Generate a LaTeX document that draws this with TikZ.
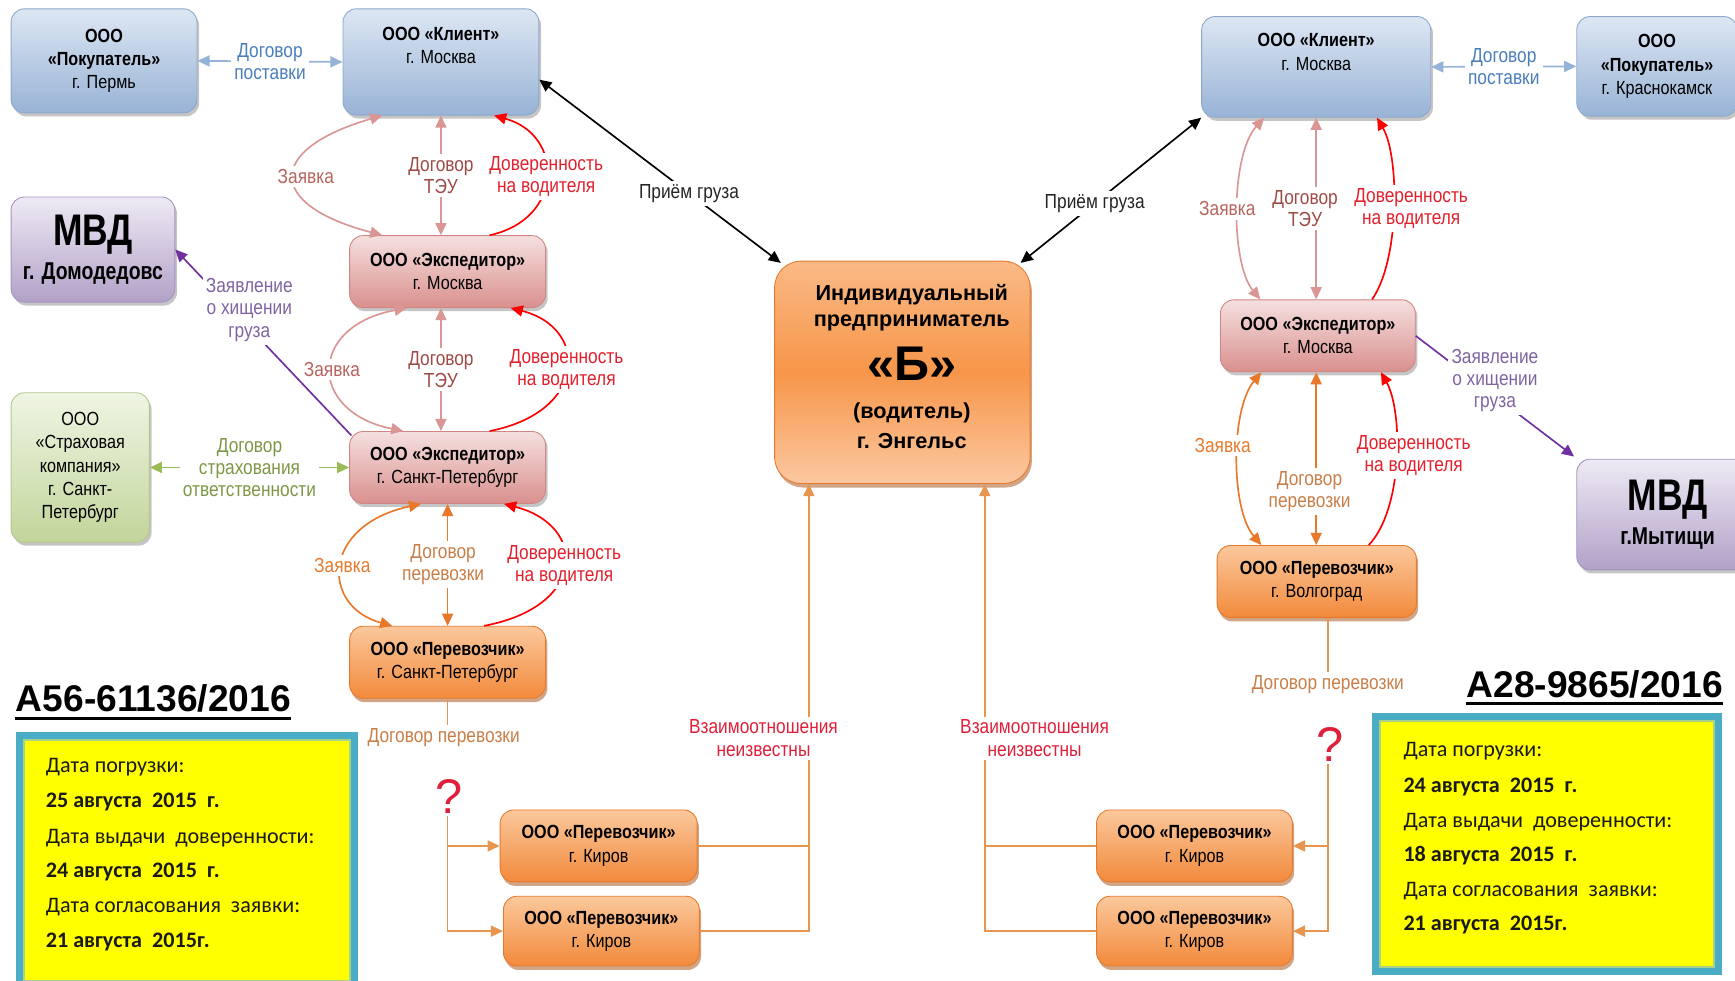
\documentclass[tikz,border=0pt]{standalone}
\usepackage{fontspec}
\setmainfont{Liberation Sans}
\newfontfamily\nar[FakeStretch=0.85]{Liberation Sans}
\newfontfamily\narx[FakeStretch=0.8]{Liberation Sans}
\newfontfamily\calib{Carlito}
\usetikzlibrary{arrows.meta,shadows,calc}

\definecolor{bluetop}{HTML}{DDE7F3}
\definecolor{bluebot}{HTML}{98B3D6}
\definecolor{blueedge}{HTML}{8DA8CC}
\definecolor{pinktop}{HTML}{F5E0DF}
\definecolor{pinkbot}{HTML}{D9908E}
\definecolor{pinkedge}{HTML}{D08684}
\definecolor{ortop}{HTML}{FBC89C}
\definecolor{orbot}{HTML}{F28A3C}
\definecolor{oredge}{HTML}{E57A2E}
\definecolor{bTop}{HTML}{FAB985}
\definecolor{bMid}{HTML}{F7964A}
\definecolor{bBot}{HTML}{FBC8A0}
\definecolor{purtop}{HTML}{EEEAF4}
\definecolor{purbot}{HTML}{B2A1C8}
\definecolor{puredge}{HTML}{A593BF}
\definecolor{grtop}{HTML}{EFF5E4}
\definecolor{grbot}{HTML}{C2D59A}
\definecolor{gredge}{HTML}{B2C88C}
\definecolor{cSupply}{HTML}{95B3D7}
\definecolor{tSupply}{HTML}{4A7EBB}
\definecolor{cPink}{HTML}{D99694}
\definecolor{tZay}{HTML}{B9645E}
\definecolor{tTeu}{HTML}{9E4A46}
\definecolor{cRed}{HTML}{FF0000}
\definecolor{tRed}{HTML}{E3202C}
\definecolor{cOr}{HTML}{E8782A}
\definecolor{tOr}{HTML}{E87A2C}
\definecolor{tOrB}{HTML}{C97E48}
\definecolor{cPur}{HTML}{7030A0}
\definecolor{tPur}{HTML}{8064A2}
\definecolor{cGr}{HTML}{9BBB59}
\definecolor{tGr}{HTML}{7C9845}
\definecolor{cLine}{HTML}{E8954F}
\definecolor{tUnk}{HTML}{E0203A}
\definecolor{frameA}{HTML}{4BACC6}
\definecolor{frameB}{HTML}{A9D18E}
\definecolor{yel}{HTML}{FFFF00}

\begin{document}
\begin{tikzpicture}[x=0.5pt,y=-0.5pt,
  >={Triangle[length=5.5pt,width=5pt]},
  box/.style={rounded corners=6pt, align=center, inner sep=1pt, line width=0.4pt, text=black,
    font=\nar\fontsize{8.6}{10.5}\selectfont},
  shd/.style={drop shadow={shadow xshift=1pt,shadow yshift=-1.6pt,opacity=0.3,fill=black!75}},
  bluebox/.style={box,shd,draw=blueedge,top color=bluetop,bottom color=bluebot},
  pinkbox/.style={box,shd,draw=pinkedge,top color=pinktop,bottom color=pinkbot},
  orbox/.style={box,draw=oredge,top color=ortop,bottom color=orbot,
    drop shadow={shadow xshift=0.8pt,shadow yshift=-1.8pt,opacity=0.55,fill=oredge!75!black}},
  purbox/.style={box,shd,draw=puredge,top color=purtop,bottom color=purbot},
  grbox/.style={box,shd,draw=gredge,top color=grtop,bottom color=grbot},
  boxtxt/.style={align=center,inner sep=0pt,text=black,font=\nar\fontsize{8.6}{10.5}\selectfont},
  btxt/.style={inner sep=0pt,text=black,font=\bfseries\fontsize{9.8}{12}\selectfont},
  lab/.style={align=center,fill=white,inner sep=1.5pt,font=\nar\fontsize{9.2}{10}\selectfont},
  conn/.style={line width=0.75pt},
  qm/.style={text=tUnk,inner sep=1pt,font=\fontsize{22}{24}\selectfont},
  ttl/.style={anchor=base west,inner sep=0pt,font=\bfseries\fontsize{16.8}{18}\selectfont},
  yframe/.style={draw=frameA,line width=3.2pt,fill=yel},
  ytxt/.style={anchor=base west,inner sep=0pt,text=black!90,font=\calib\fontsize{10}{12}\selectfont},
]
\useasboundingbox (0,0) rectangle (1568,886);

% ---------------- left column boxes
\node[bluebox,minimum width=84pt,minimum height=47pt] (pok1) at (94,55)
  {\textbf{ООО}\\\textbf{«Покупатель»}\\г. Пермь};
\node[bluebox,minimum width=88.5pt,minimum height=48pt] (kl1) at (398.5,56) {};
\node[boxtxt] (kl1t) at (398.5,41) {\textbf{ООО «Клиент»}\\г. Москва};
\node[purbox,minimum width=74pt,minimum height=47.5pt] (mvd1) at (84,225.5)
  {{\narx\bfseries\fontsize{20}{20}\selectfont МВД}\\[3pt]{\narx\bfseries\fontsize{11}{12}\selectfont г. Домодедовс}};
\node[pinkbox,minimum width=88.5pt,minimum height=32.5pt] (ex1) at (404.5,245.5)
  {\textbf{ООО «Экспедитор»}\\г. Москва};
\node[pinkbox,minimum width=88.5pt,minimum height=32.5pt] (ex2) at (404.5,422.5)
  {\textbf{ООО «Экспедитор»}\\г. Санкт-Петербург};
\node[grbox,minimum width=62.5pt,minimum height=67.5pt] (str) at (72.5,422.5)
  {ООО\\«Страховая\\компания»\\г. Санкт-\\Петербург};
\node[orbox,minimum width=88.5pt,minimum height=32.5pt] (per1) at (404.5,598.5)
  {\textbf{ООО «Перевозчик»}\\г. Санкт-Петербург};
\node[orbox,minimum width=89pt,minimum height=32.5pt] (kir1) at (541,764.5)
  {\textbf{ООО «Перевозчик»}\\г. Киров};
\node[orbox,minimum width=88.5pt,minimum height=31.5pt] (kir2) at (543.5,841.5)
  {\textbf{ООО «Перевозчик»}\\г. Киров};

% ---------------- centre
\node[orbox,rounded corners=12pt,minimum width=115.5pt,minimum height=100.5pt,
  top color=bTop,bottom color=bBot,middle color=bMid] (B) at (815.5,336.5) {};
\node[btxt] (bt1) at (824,266) {Индивидуальный};
\node[btxt] (bt2) at (824,292) {предприниматель};
\node[btxt,font=\bfseries\fontsize{22}{24}\selectfont] (bt3) at (824,329) {«Б»};
\node[btxt] (bt4) at (824,373) {(водитель)};
\node[btxt] (bt5) at (824,399) {г. Энгельс};

% ---------------- right column boxes
\node[bluebox,minimum width=103.5pt,minimum height=45.5pt] (kl2) at (1189.5,60.5) {};
\node[boxtxt] (kl2t) at (1189.5,47) {\textbf{ООО «Клиент»}\\г. Москва};
\node[bluebox,minimum width=72.5pt,minimum height=45pt] (pok2) at (1497.5,60)
  {\textbf{ООО}\\\textbf{«Покупатель»}\\г. Краснокамск};
\node[pinkbox,minimum width=88pt,minimum height=32.5pt] (ex3) at (1191,303.5)
  {\textbf{ООО «Экспедитор»}\\г. Москва};
\node[purbox,minimum width=82pt,minimum height=50pt] (mvd2) at (1507,465)
  {{\narx\bfseries\fontsize{20}{20}\selectfont МВД}\\[3pt]{\narx\bfseries\fontsize{11}{12}\selectfont г.Мытищи}};
\node[orbox,minimum width=90pt,minimum height=32.5pt] (per2) at (1190,525.5)
  {\textbf{ООО «Перевозчик»}\\г. Волгоград};
\node[orbox,minimum width=88.5pt,minimum height=32.5pt] (kir3) at (1079.5,764.5)
  {\textbf{ООО «Перевозчик»}\\г. Киров};
\node[orbox,minimum width=88.5pt,minimum height=31.5pt] (kir4) at (1079.5,841.5)
  {\textbf{ООО «Перевозчик»}\\г. Киров};

% ---------------- connectors: supply
\draw[conn,<->,cSupply] (pok1.east) -- node[lab,text=tSupply] {Договор\\поставки} (kl1.west);
\draw[conn,<->,cSupply] (kl2.east) -- node[lab,text=tSupply] {Договор\\поставки} (pok2.west);

% black: cargo
\draw[conn,<->,black] ($(kl1.east)+(0,16)$) -- node[lab,pos=0.62,text=black!85] {Приём груза} ($(B.north west)+(6,2)$);
\draw[conn,<->,black] ($(B.north east)+(-9,2)$) -- node[lab,pos=0.41,text=black!85] {Приём груза} (kl2.south west);

% left: klient - ekspeditor Moscow
\draw[conn,<->,cPink] ($(kl1.south)+(-53,0)$) .. controls (240,135) and (240,185) .. node[lab,xshift=5pt,text=tZay] {Заявка} ($(ex1.north)+(-59,0)$);
\draw[conn,<->,cPink] (kl1.south) -- node[lab,text=tTeu] {Договор\\ТЭУ} (kl1.south |- ex1.north);
\draw[conn,->,cRed] ($(ex1.north)+(38,0)$) .. controls (510,198) and (510,122) .. node[lab,text=tRed] {Доверенность\\на водителя} ($(kl1.south)+(48,0)$);

% left: ekspeditor Moscow - ekspeditor SPb
\draw[conn,<->,cPink] ($(ex1.south)+(-37,0)$) .. controls (278,295) and (278,372) .. node[lab,text=tZay] {Заявка} ($(ex2.north)+(-40,0)$);
\draw[conn,<->,cPink] (kl1.south |- ex1.south) -- node[lab,text=tTeu] {Договор\\ТЭУ} (kl1.south |- ex2.north);
\draw[conn,->,cRed] ($(ex2.north)+(38,0)$) .. controls (532,372) and (532,296) .. node[lab,text=tRed] {Доверенность\\на водителя} ($(ex1.south)+(57,0)$);

% left: ekspeditor SPb - perevozchik SPb
\draw[conn,<->,cOr] ($(ex2.south)+(-24,0)$) .. controls (290,475) and (290,548) .. node[lab,text=tOr] {Заявка} ($(per1.north)+(-50,0)$);
\draw[conn,<->,cOr] (ex2.south) -- node[lab,xshift=-2pt,text=tOrB] {Договор\\перевозки} (per1.north);
\draw[conn,->,cRed] ($(per1.north)+(33,0)$) .. controls (531,548) and (531,475) .. node[lab,text=tRed] {Доверенность\\на водителя} ($(ex2.south)+(51,0)$);

% purple and green
\draw[conn,->,cPur] ($(ex2.north west)+(2,4)$) -- node[lab,pos=0.58,yshift=8pt,text=tPur] {Заявление\\о хищении\\груза} (mvd1.east);
\draw[conn,<->,cGr] (str.east) -- node[lab,text=tGr] {Договор\\страхования\\ответственности} (ex2.west);

% right: klient - ekspeditor
\draw[conn,<->,cPink] ($(kl2.south)+(-47,0)$) .. controls (1112,140) and (1112,238) .. node[lab,xshift=-5pt,text=tZay] {Заявка} ($(ex3.north)+(-52,0)$);
\draw[conn,<->,cPink] (kl2.south) -- node[lab,xshift=-5pt,text=tTeu] {Договор\\ТЭУ} (kl2.south |- ex3.north);
\draw[conn,->,cRed] ($(ex3.north)+(49,0)$) .. controls (1265,235) and (1265,142) .. node[lab,xshift=8pt,text=tRed] {Доверенность\\на водителя} ($(kl2.south)+(55,0)$);

% right: ekspeditor - perevozchik
\draw[conn,<->,cOr] ($(ex3.south)+(-51,0)$) .. controls (1112,370) and (1112,460) .. node[lab,xshift=-7pt,yshift=6pt,text=tOr] {Заявка} ($(per2.north)+(-50,0)$);
\draw[conn,<->,cOr] (kl2.south |- ex3.south) -- node[lab,pos=0.69,xshift=-3pt,text=tOrB] {Договор\\перевозки} (kl2.south |- per2.north);
\draw[conn,->,cRed] ($(per2.north)+(47,0)$) .. controls (1268,460) and (1268,372) .. node[lab,xshift=8pt,yshift=2pt,text=tRed] {Доверенность\\на водителя} ($(ex3.south)+(57,0)$);
\draw[conn,->,cPur] (ex3.east) -- node[lab,pos=0.5,yshift=7pt,text=tPur] {Заявление\\о хищении\\груза} ($(mvd2.north west)+(-2,-2)$);

% ---------------- bottom left chain
\node[lab,text=tOrB] (dp1) at (401,667) {Договор перевозки};
\node[qm] (q1) at (406,720) {?};
\coordinate (lj) at (per1.south |- kir2.west);
\draw[conn,cLine] (per1.south) -- (per1.south |- dp1.north);
\draw[conn,->,cLine] (q1.south -| lj) -- (lj) -- (kir2.west);
\draw[conn,->,cLine] (per1.south |- kir1.west) -- (kir1.west);
\coordinate (bl) at ($(B.south)+(-84.5,0)$);
\draw[conn,->,cLine] (kir2.east) -- (kir2.east -| bl) -- (bl);
\draw[conn,cLine] (kir1.east) -- (kir1.east -| bl);
\node[lab,text=tUnk] (u1) at (690,667) {Взаимоотношения\\неизвестны};

% ---------------- bottom right chain
\node[lab,text=tOrB] (dp2) at (1200,619) {Договор перевозки};
\node[qm] (q2) at (1202,673) {?};
\coordinate (rtop) at ($(per2.south)+(10,0)$);
\draw[conn,cLine] (rtop) -- (rtop |- dp2.north);
\draw[conn,->,cLine] (q2.south -| rtop) -- (rtop |- kir4.east) -- (kir4.east);
\draw[conn,->,cLine] (rtop |- kir3.east) -- (kir3.east);
\coordinate (br) at ($(B.south)+(74.5,0)$);
\draw[conn,->,cLine] (kir4.west) -- (kir4.west -| br) -- (br);
\draw[conn,cLine] (kir3.west) -- (kir3.west -| br);
\node[lab,text=tUnk] (u2) at (935,667) {Взаимоотношения\\неизвестны};

% ---------------- titles
\node[ttl] (t1) at (14,643) {А56-61136/2016};
\draw[line width=1.4pt] ($(t1.base west)+(0,6)$) -- ($(t1.base east)+(0,6)$);
\node[ttl] (t2) at (1325,630) {А28-9865/2016};
\draw[line width=1.4pt] ($(t2.base west)+(0,6)$) -- ($(t2.base east)+(0,6)$);

% ---------------- yellow boxes
\node[yframe,minimum width=151pt,minimum height=112.5pt] (yb1) at (169,777.5) {};
\draw[frameB,line width=0.9pt] ($(yb1.north west)+(7,7)$) rectangle ($(yb1.south east)+(-7,-7)$);
\node[ytxt] (y11) at (41,698) {Дата погрузки:};
\node[ytxt] (y12) at (41,730) {\textbf{25 августа\ \ 2015\ \ г.}};
\node[ytxt] (y13) at (41,762) {Дата выдачи\ \ доверенности:};
\node[ytxt] (y14) at (41,793) {\textbf{24 августа\ \ 2015\ \ г.}};
\node[ytxt] (y15) at (41,825) {Дата согласования\ \ заявки:};
\node[ytxt] (y16) at (41,856) {\textbf{21 августа\ \ 2015г.}};

\node[yframe,minimum width=155pt,minimum height=115pt] (yb2) at (1398,763) {};
\draw[frameB,line width=0.9pt] ($(yb2.north west)+(7,7)$) rectangle ($(yb2.south east)+(-7,-7)$);
\node[ytxt] (y21) at (1268,684) {Дата погрузки:};
\node[ytxt] (y22) at (1268,716) {\textbf{24 августа\ \ 2015\ \ г.}};
\node[ytxt] (y23) at (1268,748) {Дата выдачи\ \ доверенности:};
\node[ytxt] (y24) at (1268,779) {\textbf{18 августа\ \ 2015\ \ г.}};
\node[ytxt] (y25) at (1268,810) {Дата согласования\ \ заявки:};
\node[ytxt] (y26) at (1268,841) {\textbf{21 августа\ \ 2015г.}};
\end{tikzpicture}
\end{document}
